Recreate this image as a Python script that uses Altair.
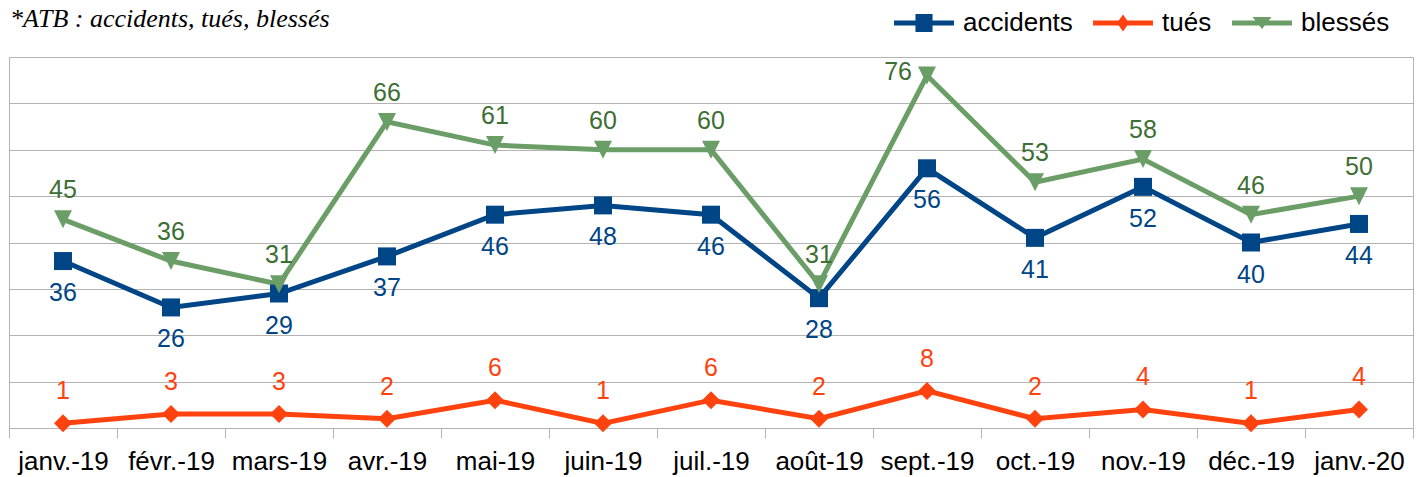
import altair as alt
import pandas as pd

titre = "*ATB : accidents, tués, blessés"
mois = ["janv.-19", "févr.-19", "mars-19", "avr.-19", "mai-19", "juin-19", "juil.-19",
        "août-19", "sept.-19", "oct.-19", "nov.-19", "déc.-19", "janv.-20"]
accidents = [36, 26, 29, 37, 46, 48, 46, 28, 56, 41, 52, 40, 44]
tues = [1, 3, 3, 2, 6, 1, 6, 2, 8, 2, 4, 1, 4]
blesses = [45, 36, 31, 66, 61, 60, 60, 31, 76, 53, 58, 46, 50]
series = ["accidents", "tués", "blessés"]
colors = ["#004586", "#ff420e", "#6a9e66"]
label_colors = {"accidents": "#004586", "tués": "#ff420e", "blessés": "#3d6e33"}

rows = []
for s, vals in zip(series, [accidents, tues, blesses]):
    for i, (m, v) in enumerate(zip(mois, vals)):
        rows.append({"serie": s, "mois": m, "value": v, "idx": i})
df = pd.DataFrame(rows)

GRID = "#b3b3b3"
marker_shapes = ["M-1,-1H1V1H-1Z", "M-1,0L0,-1L1,0L0,1Z", "M-1,-1L1,-1L0,1Z"]
LINE = "M-3.33,-0.29H3.33V0.29H-3.33Z "
legend_shapes = [LINE + "M-0.95,-1H0.95V1H-0.95Z",
                 LINE + "M-0.67,0L0,-0.95L0.67,0L0,0.95Z",
                 LINE + "M-1.05,-0.66L1.05,-0.66L0,0.66Z"]

x = alt.X("mois:N", sort=mois,
          scale=alt.Scale(type="band", paddingInner=0, paddingOuter=0),
          axis=alt.Axis(title=None, labelAngle=0, labelFontSize=26, labelFont="Liberation Sans",
                        labelColor="#000000", tickBand="extent", tickSize=10, tickColor=GRID,
                        domainColor=GRID, labelPadding=10, grid=False, labelOverlap=False,
                        labelLimit=0))
y = alt.Y("value:Q", scale=alt.Scale(domain=[0, 80], nice=False),
          axis=alt.Axis(title=None, values=list(range(0, 81, 10)), labels=False, ticks=False,
                        grid=True, gridColor=GRID, domainColor=GRID))

color = alt.Color("serie:N", scale=alt.Scale(domain=series, range=colors), legend=None)

base = alt.Chart(df)

lines = base.mark_line(strokeWidth=5).encode(x=x, y=y, color=color, detail="serie:N")
points = base.mark_point(filled=True, size=324, opacity=1).encode(
    x=x, y=y, color=color,
    shape=alt.Shape("serie:N", scale=alt.Scale(domain=series, range=marker_shapes), legend=None))

leg = alt.Legend(title=None, orient="none", legendX=902, legendY=-47, direction="horizontal",
                 columns=3, symbolSize=324, symbolStrokeWidth=0, labelFontSize=26,
                 labelFont="Liberation Sans", labelColor="#000000", labelOffset=26,
                 columnPadding=20, padding=0, symbolOpacity=1, labelLimit=0)
legend_layer = base.transform_filter("false").mark_point(filled=True, size=324, opacity=1).encode(
    color=alt.Color("serie:N", scale=alt.Scale(domain=series, range=colors), legend=leg),
    shape=alt.Shape("serie:N", scale=alt.Scale(domain=series, range=legend_shapes), legend=leg))

font = dict(font="Liberation Sans", fontSize=25)
lab_acc = base.transform_filter("datum.serie == 'accidents'").mark_text(
    dy=32, color=label_colors["accidents"], **font).encode(x=x, y=y, text="value:Q")
lab_tues = base.transform_filter("datum.serie == 'tués'").mark_text(
    dy=-32, color=label_colors["tués"], **font).encode(x=x, y=y, text="value:Q")
lab_bl = base.transform_filter("datum.serie == 'blessés' && datum.value < 70").mark_text(
    dy=-29, color=label_colors["blessés"], **font).encode(x=x, y=y, text="value:Q")
lab_bl_top = base.transform_filter("datum.serie == 'blessés' && datum.value >= 70").mark_text(
    dx=-15, dy=-4, align="right", color=label_colors["blessés"], **font).encode(
    x=x, y=y, text="value:Q")

title_layer = alt.Chart(pd.DataFrame({"t": [titre]})).mark_text(
    align="left", baseline="alphabetic", font="Liberation Serif", fontStyle="italic",
    fontSize=26, color="#000000").encode(
    x=alt.value(1), y=alt.value(-30), text="t:N")

chart = alt.layer(lines, points, lab_acc, lab_tues, lab_bl, lab_bl_top, legend_layer,
                  title_layer).resolve_scale(
    color="independent", shape="independent"
).properties(
    width=1404, height=371,
    autosize=alt.AutoSizeParams(type="none"),
    padding={"left": 1, "top": 49, "right": 5, "bottom": 49},
    background="white",
).configure_view(stroke=GRID, strokeWidth=1)

chart.save("out.html", embed_options={"renderer": "svg", "actions": False})
